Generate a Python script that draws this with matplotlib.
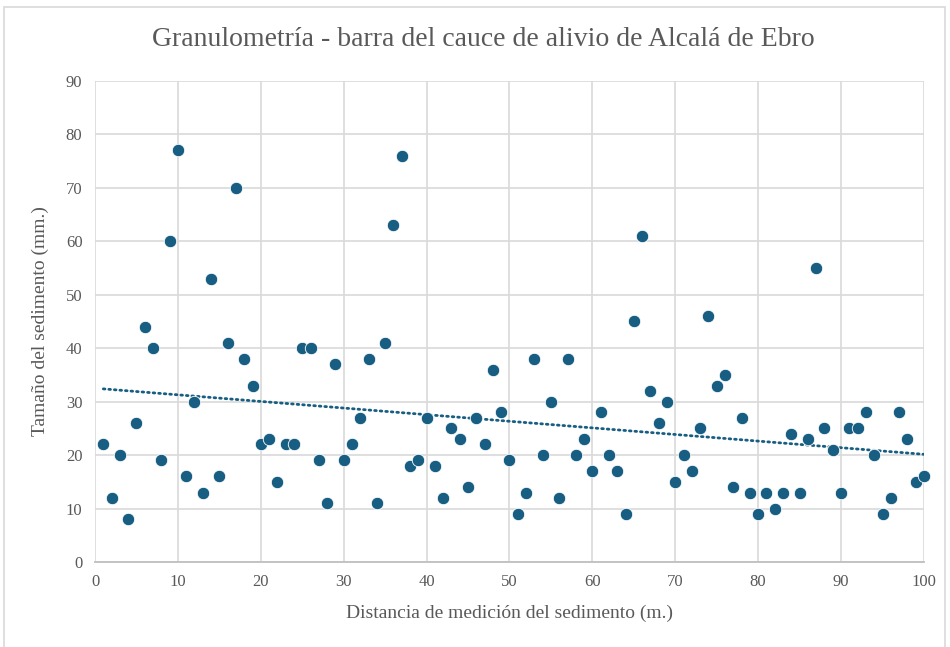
import numpy as np
import matplotlib
matplotlib.use("Agg")
import matplotlib.pyplot as plt
from matplotlib.patches import Rectangle

# Sediment size (mm) measured every metre along the bar
distancia = list(range(1, 101))
tamano = [
    22, 12, 20, 8, 26, 44, 40, 19, 60, 77,
    16, 30, 13, 53, 16, 41, 70, 38, 33, 22,
    23, 15, 22, 22, 40, 40, 19, 11, 37, 19,
    22, 27, 38, 11, 41, 63, 76, 18, 19, 27,
    18, 12, 25, 23, 14, 27, 22, 36, 28, 19,
    9, 13, 38, 20, 30, 12, 38, 20, 23, 17,
    28, 20, 17, 9, 45, 61, 32, 26, 30, 15,
    20, 17, 25, 46, 33, 35, 14, 27, 13, 9,
    13, 10, 13, 24, 13, 23, 55, 25, 21, 13,
    25, 25, 28, 20, 9, 12, 28, 23, 15, 16,
]
x_ticks = list(range(0, 101, 10))
y_ticks = list(range(0, 91, 10))

POINT_COLOR = "#175e82"
TEXT_COLOR = "#595959"
GRID_COLOR = "#d9d9d9"
FONT = ["Liberation Serif", "DejaVu Serif"]

plt.rcParams["font.family"] = FONT

fig = plt.figure(figsize=(9.5, 6.47), dpi=100)
ax = fig.add_axes([0.1, 0.1314, 0.8726, 0.7434])

# chart frame
fig.patches.append(Rectangle((4 / 950, -0.01), 941 / 950, 1 - 7 / 647 + 0.01,
                             transform=fig.transFigure, fill=False,
                             edgecolor="#d9d9d9", linewidth=1.2))

ax.scatter(distancia, tamano, s=80, color=POINT_COLOR, edgecolor="white",
           linewidth=0.6, zorder=3, clip_on=False)

# linear trend line
x = np.array(distancia, dtype=float)
y = np.array(tamano, dtype=float)
m, b = np.polyfit(x, y, 1)
ax.plot([x.min(), x.max()], [m * x.min() + b, m * x.max() + b],
        color=POINT_COLOR, linewidth=2.0, linestyle=(0, (0.6, 1.4)),
        dash_capstyle="round", zorder=2)

ax.set_xlim(0, 100)
ax.set_ylim(0, 90)
ax.set_xticks(x_ticks)
ax.set_yticks(y_ticks)
ax.grid(True, color=GRID_COLOR, linewidth=1.2)
ax.set_axisbelow(True)
for side in ["left", "right", "top"]:
    ax.spines[side].set_visible(False)
ax.spines["bottom"].set_color("#bfbfbf")
ax.spines["bottom"].set_linewidth(1.3)
ax.tick_params(length=0, labelsize=12, labelcolor=TEXT_COLOR, pad=9)

ax.set_xlabel("Distancia de medición del sedimento (m.)", fontsize=14,
              color=TEXT_COLOR, labelpad=10)
ax.set_ylabel("Tamaño del sedimento (mm.)", fontsize=14,
              color=TEXT_COLOR, labelpad=12)
fig.text(483 / 950, 1 - 40 / 647,
         "Granulometría - barra del cauce de alivio de Alcalá de Ebro",
         ha="center", va="center", fontsize=20, color=TEXT_COLOR)

fig.savefig("out.png", dpi=100)
